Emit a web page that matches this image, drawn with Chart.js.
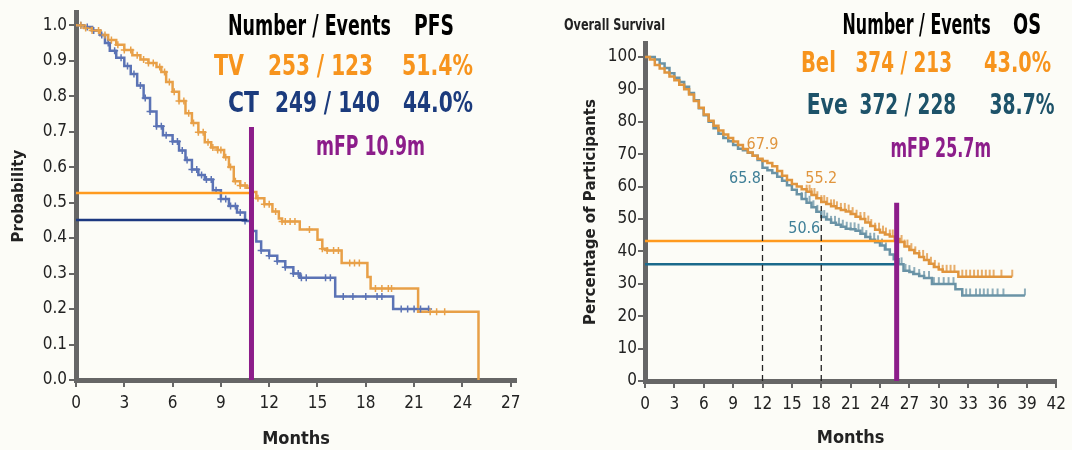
<!DOCTYPE html>
<html><head><meta charset="utf-8">
<script src="https://cdn.jsdelivr.net/npm/chart.js@4.4.1/dist/chart.umd.min.js"></script>
<style>
html,body{margin:0;padding:0;background:#fcfcf7;}
#wrap{position:relative;width:1072px;height:450px;overflow:hidden;background:#fcfcf7;}
.panel{position:absolute;top:0;width:536px;height:450px;}
</style></head><body>
<div id="wrap">
<div class="panel" style="left:0"><canvas id="c1"></canvas></div>
<div class="panel" style="left:536px"><canvas id="c2"></canvas></div>
</div>
<script>
// ---------- Left panel: PFS ----------
const xTicksLeft = [0,3,6,9,12,15,18,21,24,27];
const yTicksLeft = [0,0.1,0.2,0.3,0.4,0.5,0.6,0.7,0.8,0.9,1.0];
const tvMonths = [0,0.5,1.0,1.5,2.0,2.5,3.0,3.5,4.0,4.5,5.0,5.3,5.6,6.0,6.4,6.8,7.2,7.6,8.0,8.4,8.8,9.2,9.5,9.8,10.2,10.6,10.9,11.2,11.7,12.2,12.6,12.8,13.9,15.0,15.3,15.6,16.5,18.1,18.3,21.25,25.0];
const tvProb   = [1.0,0.992,0.985,0.972,0.958,0.945,0.930,0.915,0.903,0.893,0.882,0.868,0.840,0.812,0.786,0.752,0.724,0.698,0.670,0.655,0.648,0.628,0.600,0.560,0.548,0.542,0.530,0.512,0.495,0.475,0.455,0.447,0.424,0.395,0.370,0.365,0.330,0.290,0.258,0.192,0.0];
const ctMonths = [0,0.5,1.0,1.5,1.8,2.1,2.5,3.0,3.4,3.8,4.2,4.6,5.0,5.4,6.0,6.4,6.8,7.2,7.6,8.0,8.5,9.0,9.5,10.0,10.5,10.9,11.2,11.5,12.0,12.5,13.0,13.5,13.9,16.1,19.7,22.0];
const ctProb   = [1.0,0.995,0.985,0.972,0.950,0.928,0.908,0.885,0.862,0.830,0.795,0.757,0.715,0.690,0.672,0.647,0.620,0.593,0.578,0.565,0.535,0.510,0.490,0.472,0.448,0.420,0.390,0.365,0.350,0.335,0.318,0.300,0.288,0.235,0.200,0.200];
const tvCensor = [0.3,0.6,1.0,1.4,1.8,2.2,2.6,3.0,3.4,3.8,4.2,4.5,4.8,5.2,5.5,5.8,6.1,6.4,6.7,7.0,7.3,7.6,7.9,8.2,8.5,8.8,9.0,9.3,9.6,9.9,10.2,10.5,11.0,11.3,11.7,12.0,12.4,12.8,13.0,13.3,13.6,14.5,15.3,15.6,16.0,16.3,17.0,17.3,17.6,18.6,19.0,19.4,19.6,22.0,22.4,22.9];
const ctCensor = [0.3,0.7,1.1,1.6,2.0,2.4,2.8,3.2,3.6,4.0,4.3,4.6,5.0,5.3,5.6,6.0,6.3,6.6,6.9,7.2,7.5,7.8,8.1,8.4,8.7,9.0,9.3,9.6,9.9,10.2,10.5,11.0,11.5,12.0,12.5,13.0,13.5,13.8,14.0,14.3,15.5,15.8,16.6,17.2,18.0,18.7,19.0,20.2,20.6,21.0,21.4,21.9];
const pfsRefLevel = [0.527, 0.451];   // TV, CT horizontal reference levels
const pfsRefEnd   = [10.8, 10.64];
const mfpLeft = 10.9, mfpLeftTop = 0.713;

// ---------- Right panel: OS ----------
const xTicksRight = [0,3,6,9,12,15,18,21,24,27,30,33,36,39,42];
const yTicksRight = [0,10,20,30,40,50,60,70,80,90,100];
const belMonths = [0,0.5,1.0,1.5,2.0,2.5,3.0,3.5,4.0,4.5,5.0,5.5,6.0,6.5,7.0,7.5,8.0,8.5,9.0,9.5,10.0,10.5,11.0,11.5,12.0,12.5,13.0,13.5,14.0,14.5,15.0,15.5,16.0,16.5,17.0,17.5,18.0,18.5,19.0,19.5,20.0,20.5,21.0,21.5,22.0,22.5,23.0,23.5,24.0,24.5,25.0,25.5,26.0,26.5,27.0,27.5,28.0,28.5,29.0,29.5,30.0,30.4,32.0,37.5];
const belPct    = [100,99.2,97.5,96.4,95.2,94.0,92.8,91.4,90.0,88.4,86.4,84.3,82.2,80.3,78.8,77.3,76.1,75.0,73.9,72.8,71.6,70.5,69.5,68.6,67.9,67.3,66.3,64.8,63.3,62.0,60.8,60.0,59.2,58.4,57.4,56.4,55.2,54.6,53.9,53.3,52.8,52.3,51.5,50.7,50.0,48.9,47.8,46.7,45.8,45.2,44.6,43.8,42.9,41.5,40.4,39.4,38.3,37.3,36.2,35.2,34.4,33.7,32.2,32.2];
const eveMonths = [0,0.5,1.0,1.5,2.0,2.5,3.0,3.5,4.0,4.5,5.0,5.5,6.0,6.5,7.0,7.5,8.0,8.5,9.0,9.5,10.0,10.5,11.0,11.5,12.0,12.5,13.0,13.5,14.0,14.5,15.0,15.5,16.0,16.5,17.0,17.5,18.0,18.5,19.0,19.5,20.0,20.5,21.0,21.5,22.0,22.5,23.0,23.5,24.0,24.5,25.0,25.4,25.9,26.4,27.0,27.4,28.0,28.5,29.3,31.7,32.4,38.8];
const evePct    = [100,100,99.2,98.0,96.6,95.0,93.6,92.3,90.8,88.9,86.6,84.2,82.0,80.0,78.0,76.3,75.0,74.0,72.8,71.7,71.2,70.4,69.5,68.2,65.8,65.0,64.2,63.0,61.8,60.4,59.0,57.6,56.2,55.0,53.6,52.2,50.6,49.8,48.8,48.2,47.6,47.0,46.8,46.4,45.4,44.4,43.6,42.8,41.8,40.6,39.0,37.6,36.0,34.0,33.6,33.0,32.4,31.8,29.9,28.3,26.4,26.4];
const belCensor = [16.5,16.8,17.0,17.3,17.6,18.0,18.3,18.6,19.0,19.3,19.6,20.0,20.4,20.8,21.2,21.6,22.0,22.4,22.8,23.1,23.5,23.9,24.3,24.6,25.0,25.3,26.2,26.5,26.8,27.2,27.6,28.0,28.4,28.8,29.2,29.6,30.0,30.4,30.8,31.2,31.6,32.4,32.8,33.2,33.6,34.0,34.4,34.8,35.2,35.6,36.4,37.5];
const eveCensor = [16.0,16.4,16.8,17.2,17.6,18.3,18.6,19.0,19.4,19.8,20.2,20.6,21.0,21.4,21.8,22.2,22.6,23.0,23.4,23.8,24.2,24.6,26.2,26.6,27.0,27.5,28.0,28.5,29.0,29.5,30.0,30.5,31.0,31.5,32.8,33.2,33.8,34.2,34.6,35.0,35.5,36.0,36.6,38.8];
const osRefLevel = [43.2, 36.0];   // Bel, Eve horizontal reference levels
const osRefEnd   = [25.6, 25.6];
const dashMonths = [12, 18];
const dashTops   = [64, 54];
const mfpRight = 25.7, mfpRightTop = 55;
const noteMonths = [12, 12, 18, 18];
const noteValues = [67.9, 65.8, 55.2, 50.6];
const noteSeries = ['Bel','Eve','Bel','Eve'];

// ---------- helpers ----------
const pts = (xs, ys) => xs.map((x,i)=>({x:x, y:ys[i]}));
function stepAt(ms, vs, t){ let v = vs[0]; for (let i=0;i<ms.length;i++){ if (ms[i] <= t) v = vs[i]; } return v; }
const censorPts = (cs, ms, vs) => cs.map(t=>({x:t, y:stepAt(ms, vs, t)}));

const C = {
  tvCurve:'#e8a048', ctCurve:'#5b73b5', tvRef:'#ff9a1f', ctRef:'#1c3880',
  belCurve:'#e0953e', eveCurve:'#6a93a6', belRef:'#ff9a1f', eveRef:'#1b6a8c',
  purple:'#8c1d8a', axis:'#666666', tick:'#222222',
  tvText:'#f7941d', ctText:'#1b3b7d', belText:'#f7941d', eveText:'#1d5269', noteBel:'#e0953e', noteEve:'#3f7f97'
};
const NARROW = "'Liberation Sans Narrow','DejaVu Sans Condensed',sans-serif";

// upward censor tick used as a point style
function upTick(color){
  const cv = document.createElement('canvas'); cv.width = 4; cv.height = 16;
  const g = cv.getContext('2d'); g.strokeStyle = color; g.lineWidth = 1.5;
  g.beginPath(); g.moveTo(2, 1); g.lineTo(2, 8); g.stroke(); return cv;
}

function fitText(ctx, txt, x, base, w, font, color){
  ctx.save(); ctx.font = font; ctx.fillStyle = color; ctx.textAlign='left'; ctx.textBaseline='alphabetic';
  const mw = ctx.measureText(txt).width; const s = w / mw;
  ctx.translate(x, base); ctx.scale(s, 1); ctx.fillText(txt, 0, 0); ctx.restore();
}

const bgPlugin = { id:'bg', beforeDraw(chart){ const c=chart.ctx; c.save(); c.fillStyle='#fcfcf7'; c.fillRect(0,0,chart.width,chart.height); c.restore(); } };

function axisCfg(min, max, ticksArr, fmt, isX, opt){
  return {
    type:'linear', min:min, max:max,
    afterBuildTicks: s => { s.ticks = ticksArr.map(v=>({value:v})); },
    afterFit: s => { if (isX) s.height = opt.size; else s.width = opt.size; },
    grid:{ display:true, drawOnChartArea:false, drawTicks:true, tickLength:7, color:C.axis, lineWidth:2 },
    border:{ display:true, color:C.axis, width:5 },
    ticks:{ color:C.tick, font:{family:NARROW, size:17}, padding:opt.pad, callback:fmt, autoSkip:false, maxRotation:0 },
    title:{ display:true, text:opt.title, color:'#222', font:opt.titleFont, padding:opt.titlePad }
  };
}

function lineDs(data, color, width, order, extra){
  return Object.assign({ data:data, borderColor:color, backgroundColor:color, borderWidth:width, pointRadius:0, fill:false, tension:0, order:order }, extra||{});
}

// ---------- Left chart ----------
const headerLeft = { id:'hdrL', afterDraw(chart){
  const c = chart.ctx; const F = "bold 29px " + NARROW; const F2 = "bold 26px " + NARROW;
  fitText(c,'Number / Events',228,35,163,F,'#000');
  fitText(c,'PFS',414,35,40,F,'#000');
  fitText(c,'TV',214,75,30,F,C.tvText);
  fitText(c,'253 / 123',268,75,105,F,C.tvText);
  fitText(c,'51.4%',402,75,71,F,C.tvText);
  fitText(c,'CT',228,112,31,F,C.ctText);
  fitText(c,'249 / 140',275,112,105,F,C.ctText);
  fitText(c,'44.0%',403,112,70,F,C.ctText);
  fitText(c,'mFP 10.9m',316,155,109,F2,C.purple);
}};

new Chart(document.getElementById('c1'), {
  type:'line',
  data:{ datasets:[
    lineDs(pts(tvMonths,tvProb), C.tvCurve, 2.5, 6, {stepped:true}),
    lineDs(pts(ctMonths,ctProb), C.ctCurve, 2.5, 7, {stepped:true}),
    lineDs(censorPts(tvCensor,tvMonths,tvProb), C.tvCurve, 1.5, 4, {showLine:false, pointStyle:'cross', pointRadius:3.5, pointBorderWidth:1.5}),
    lineDs(censorPts(ctCensor,ctMonths,ctProb), C.ctCurve, 1.5, 5, {showLine:false, pointStyle:'cross', pointRadius:3.5, pointBorderWidth:1.5}),
    lineDs([{x:0,y:pfsRefLevel[0]},{x:pfsRefEnd[0],y:pfsRefLevel[0]}], C.tvRef, 2.5, 2),
    lineDs([{x:0,y:pfsRefLevel[1]},{x:pfsRefEnd[1],y:pfsRefLevel[1]}], C.ctRef, 2.5, 3),
    lineDs([{x:mfpLeft,y:0},{x:mfpLeft,y:mfpLeftTop}], C.purple, 5, 0)
  ]},
  options:{
    responsive:true, maintainAspectRatio:false, animation:false,
    layout:{ padding:{ left:0, right:20, top:11, bottom:0 } },
    plugins:{ legend:{display:false}, tooltip:{enabled:false} },
    scales:{
      x: axisCfg(0, 27.33, xTicksLeft, v=>String(v), true, {size:70, pad:6, title:'Months', titleFont:{family:NARROW, size:18, weight:'bold'}, titlePad:{top:0,bottom:0}}),
      y: axisCfg(0, 1.0365, yTicksLeft, v=>v.toFixed(1), false, {size:76, pad:2, title:'Probability', titleFont:{family:"'DejaVu Sans',sans-serif", size:15, weight:'bold'}, titlePad:{top:10,bottom:0}})
    }
  },
  plugins:[bgPlugin, headerLeft]
});

// ---------- Right chart ----------
const headerRight = { id:'hdrR', afterDraw(chart){
  const c = chart.ctx; const F = "bold 29px " + NARROW; const F2 = "bold 26px " + NARROW;
  fitText(c,'Overall Survival',28,30,101,"bold 16px " + NARROW,'#222');
  fitText(c,'Number / Events',306.6,33.6,148,F,'#000');
  fitText(c,'OS',477,33.6,28,F,'#000');
  fitText(c,'Bel',264.9,72,35,F,C.belText);
  fitText(c,'374 / 213',319.5,72,96.5,F,C.belText);
  fitText(c,'43.0%',448,72,67,F,C.belText);
  fitText(c,'Eve',270.7,113.8,41,F,C.eveText);
  fitText(c,'372 / 228',323.6,113.8,96.4,F,C.eveText);
  fitText(c,'38.7%',453.5,113.8,65,F,C.eveText);
  fitText(c,'mFP 25.7m',354.4,157,100.6,F2,C.purple);
  // value notes at landmark months
  const xs = chart.scales.x, ys = chart.scales.y;
  const offs = [[0,-16],[-17.5,11],[0,-23],[-17,12]];
  c.save(); c.font = "16px " + NARROW; c.textAlign='center'; c.textBaseline='middle';
  noteMonths.forEach((m,i)=>{
    c.fillStyle = noteSeries[i]==='Bel' ? C.noteBel : C.noteEve;
    c.fillText(noteValues[i].toFixed(1), xs.getPixelForValue(m)+offs[i][0], ys.getPixelForValue(noteValues[i])+offs[i][1]);
  });
  c.restore();
}};

new Chart(document.getElementById('c2'), {
  type:'line',
  data:{ datasets:[
    lineDs(pts(belMonths,belPct), C.belCurve, 2.5, 6, {stepped:true}),
    lineDs(pts(eveMonths,evePct), C.eveCurve, 2.5, 7, {stepped:true}),
    lineDs(censorPts(belCensor,belMonths,belPct), C.belCurve, 1.5, 4, {showLine:false, pointStyle:upTick(C.belCurve), pointRadius:4}),
    lineDs(censorPts(eveCensor,eveMonths,evePct), C.eveCurve, 1.5, 5, {showLine:false, pointStyle:upTick(C.eveCurve), pointRadius:4}),
    lineDs([{x:0,y:osRefLevel[0]},{x:osRefEnd[0],y:osRefLevel[0]}], C.belRef, 2.5, 2),
    lineDs([{x:0,y:osRefLevel[1]},{x:osRefEnd[1],y:osRefLevel[1]}], C.eveRef, 2.5, 3),
    lineDs([{x:dashMonths[0],y:0},{x:dashMonths[0],y:dashTops[0]}], '#222', 1.3, 1, {borderDash:[6,4]}),
    lineDs([{x:dashMonths[1],y:0},{x:dashMonths[1],y:dashTops[1]}], '#222', 1.3, 1, {borderDash:[6,4]}),
    lineDs([{x:mfpRight,y:0},{x:mfpRight,y:mfpRightTop}], C.purple, 5, 0)
  ]},
  options:{
    responsive:true, maintainAspectRatio:false, animation:false,
    layout:{ padding:{ left:0, right:9, top:43, bottom:0 } },
    plugins:{ legend:{display:false}, tooltip:{enabled:false} },
    scales:{
      x: axisCfg(0, 42, xTicksRight, v=>String(v), true, {size:69, pad:6, title:'Months', titleFont:{family:NARROW, size:18, weight:'bold'}, titlePad:{top:0,bottom:1}}),
      y: axisCfg(0, 104.3, yTicksRight, v=>String(v), false, {size:109, pad:1, title:'Percentage of Participants', titleFont:{family:"'DejaVu Sans',sans-serif", size:15, weight:'bold'}, titlePad:{top:46,bottom:0}})
    }
  },
  plugins:[bgPlugin, headerRight]
});
</script>
</body></html>
